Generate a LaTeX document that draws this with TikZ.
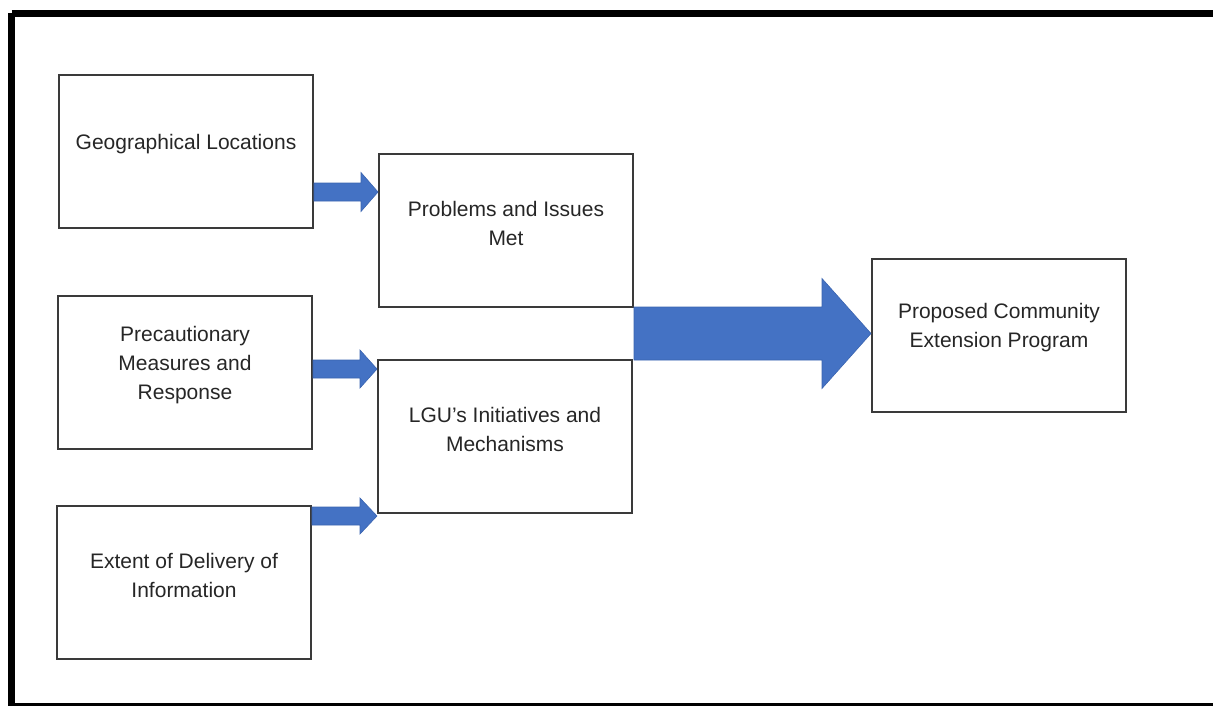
\documentclass[tikz,border=0pt]{standalone}
\usepackage{fontspec}
\setmainfont{Liberation Sans}
\usetikzlibrary{calc}
\definecolor{officeblue}{HTML}{4472C4}
\definecolor{arrowedge}{HTML}{3A64B0}
\definecolor{boxline}{HTML}{3A3A3A}
\definecolor{txt}{HTML}{262626}
\tikzset{
  box/.style={draw=boxline, line width=2pt, minimum width=254pt, minimum height=153pt, inner sep=0pt},
  boxtext/.style={font=\fontsize{21}{29}\selectfont, text=txt, align=center},
  fatarrow/.style={fill=officeblue, draw=arrowedge, line width=0.6pt, line join=miter}
}
\newcommand\blockarrow[5]{% start, tip, shaft half, head half, head length
  \path[fatarrow] let \p1=(#1), \p2=(#2) in
    (\x1,\y1+#3) -- (\x2-#5,\y1+#3) -- (\x2-#5,\y1+#4) -- (\x2,\y1) --
    (\x2-#5,\y1-#4) -- (\x2-#5,\y1-#3) -- (\x1,\y1-#3) -- cycle;
}
\begin{document}
\begin{tikzpicture}[x=1pt,y=-1pt]
\useasboundingbox (0,0) rectangle (1213,706);
\draw[line width=7pt, black] (11.5,13.5) -- (1230,13.5) (11.5,13.5) -- (11.5,706.5) -- (1230,706.5);

\node[box] (g) at (186,151.5) {};
\node[boxtext] (gt) at (186,144) {Geographical Locations};
\node[box] (p) at (506,230.5) {};
\node[boxtext] (pt) at (506,223) {Problems and Issues\\Met};
\node[box] (m) at (185,372.5) {};
\node[boxtext] (mt) at (185,365.5) {Precautionary\\Measures and\\Response};
\node[box] (l) at (505,436.5) {};
\node[boxtext] (lt) at (505,429) {LGU's Initiatives and\\Mechanisms};
\node[box] (e) at (184,582.5) {};
\node[boxtext] (et) at (184,575) {Extent of Delivery of\\Information};
\node[box] (c) at (999,335.5) {};
\node[boxtext] (ct) at (999,328) {Proposed Community\\Extension Program};

\coordinate (a1s) at (g.east |- 0,192);
\coordinate (a1t) at (p.west |- 0,192);
\coordinate (a2s) at (m.east |- 0,369);
\coordinate (a2t) at (l.west |- 0,369);
\coordinate (a3s) at (e.east |- 0,516);
\coordinate (a3t) at (l.west |- 0,516);
\coordinate (a4s) at (p.east |- 0,333.5);
\coordinate (a4t) at (c.west |- 0,333.5);

\blockarrow{a1s}{a1t}{9pt}{19.5pt}{17pt}
\blockarrow{a2s}{a2t}{9pt}{19pt}{17pt}
\blockarrow{a3s}{a3t}{9pt}{18pt}{17pt}
\blockarrow{a4s}{a4t}{26.5pt}{55pt}{49pt}
\end{tikzpicture}
\end{document}
